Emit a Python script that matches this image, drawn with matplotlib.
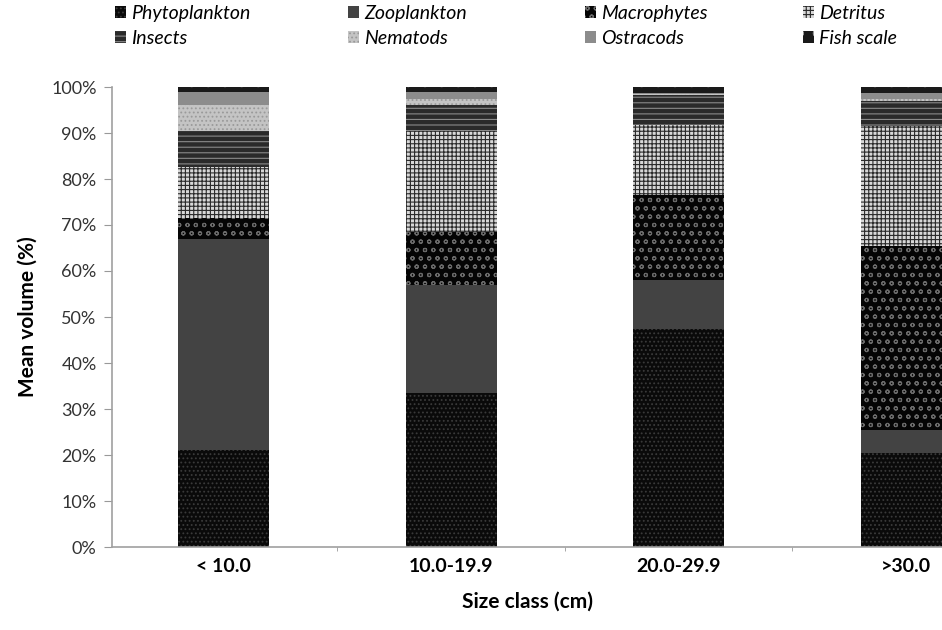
import numpy as np
import matplotlib
matplotlib.use('Agg')
import matplotlib.pyplot as plt

# size classes and diet composition (fraction of mean volume)
classes = ['< 10.0', '10.0-19.9', '20.0-29.9', '>30.0']
items = ['Phytoplankton', 'Zooplankton', 'Macrophytes', 'Detritus',
         'Insects', 'Nematods', 'Ostracods', 'Fish scale']

phyto = [21.0, 33.5, 47.5, 20.5]
zoo = [46.0, 23.5, 10.5, 5.0]
macro = [4.5, 11.5, 18.5, 40.0]
detritus = [11.0, 22.0, 15.2, 26.0]
insects = [8.0, 5.5, 6.5, 5.5]
nematods = [5.5, 1.5, 0.3, 0.3]
ostracods = [3.0, 1.5, 0.3, 1.5]
fish = [1.0, 1.0, 1.2, 1.2]

series = [phyto, zoo, macro, detritus, insects, nematods, ostracods, fish]

# face colour, hatch colour, hatch
styles = [
    ('#0a0a0a', '#3a3a3a', '....'),
    ('#434343', '#434343', None),
    ('#050505', '#6a6a6a', 'oo'),
    ('#d8d8d8', '#2a2a2a', '++++'),
    ('#2a2a2a', '#8a8a8a', '---'),
    ('#c4c4c4', '#9a9a9a', '....'),
    ('#8c8c8c', '#8c8c8c', None),
    ('#1a1a1a', '#9a9a9a', 'o'),
]

plt.rcParams['font.family'] = ['Lato', 'DejaVu Sans']
plt.rcParams['hatch.linewidth'] = 0.8

fig = plt.figure(figsize=(9.42, 6.30), dpi=100)
ax = fig.add_axes([112 / 942, 83 / 630, 1 - 112 / 942, 460 / 630])

x = np.arange(len(classes))
bottom = np.zeros(len(classes))
handles = []
for name, vals, (fc, hc, hatch) in zip(items, series, styles):
    vals = np.array(vals) / 100.0
    b = ax.bar(x, vals, 0.4, bottom=bottom, color=fc, edgecolor=hc,
               hatch=hatch, linewidth=0, label=name)
    handles.append(b)
    bottom += vals

ax.set_xlim(-0.49, 3.158)
ax.set_ylim(0, 1)
ax.set_yticks(np.arange(0, 1.01, 0.1))
ax.set_yticklabels(['%d%%' % v for v in range(0, 101, 10)], fontsize=13, color='#333333')
ax.set_xticks(x)
ax.set_xticklabels(classes, fontsize=14, fontweight='bold')
ax.set_xticks([0.5, 1.5, 2.5], minor=True)
ax.tick_params(axis='x', which='major', length=0, pad=8)
ax.tick_params(axis='x', which='minor', length=3, color='#999999')
ax.tick_params(axis='y', length=6, color='#999999', pad=5)

for s in ['top', 'right']:
    ax.spines[s].set_visible(False)
for s in ['left', 'bottom']:
    ax.spines[s].set_color('#a0a0a0')
    ax.spines[s].set_linewidth(1.2)

ax.set_ylabel('Mean volume (%)', fontsize=15, fontweight='bold', labelpad=10)
ax.set_xlabel('Size class (cm)', fontsize=15, fontweight='bold', labelpad=12)

# legend: four columns of two rows across the top
col_x = [113, 346, 583, 801]
for c, cx in enumerate(col_x):
    idx = [c, c + 4]
    fig.legend([handles[i] for i in idx], [items[i] for i in idx],
               loc='upper left', bbox_to_anchor=(cx / 942, 1.0 - 3 / 630),
               ncol=1, frameon=False, prop={'size': 14, 'style': 'italic'},
               handlelength=0.55, handleheight=0.55, handletextpad=0.3,
               labelspacing=0.4, borderaxespad=0.0, borderpad=0.1)

fig.savefig('out.png', dpi=100)
